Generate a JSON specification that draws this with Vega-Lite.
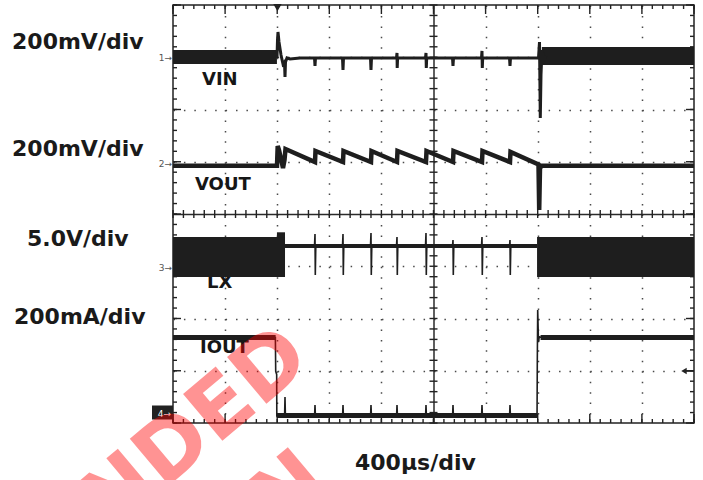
{
  "$schema": "https://vega.github.io/schema/vega-lite/v6.json",
  "width": 521,
  "height": 418,
  "autosize": {"type": "none"},
  "padding": {"left": 173, "top": 5, "right": 9, "bottom": 57},
  "background": "white",
  "config": {
    "view": {"stroke": "#222", "strokeWidth": 1.5},
    "axis": {"labels": false, "grid": false, "domain": false, "ticks": false}
  },
  "datasets": {
    "xt": [{"t":0},{"t":80},{"t":160},{"t":240},{"t":320},{"t":400},{"t":480},{"t":560},{"t":640},{"t":720},{"t":800},{"t":880},{"t":960},{"t":1040},{"t":1120},{"t":1200},{"t":1280},{"t":1360},{"t":1440},{"t":1520},{"t":1600},{"t":1680},{"t":1760},{"t":1840},{"t":1920},{"t":2000},{"t":2080},{"t":2160},{"t":2240},{"t":2320},{"t":2400},{"t":2480},{"t":2560},{"t":2640},{"t":2720},{"t":2800},{"t":2880},{"t":2960},{"t":3040},{"t":3120},{"t":3200},{"t":3280},{"t":3360},{"t":3440},{"t":3520},{"t":3600},{"t":3680},{"t":3760},{"t":3840},{"t":3920},{"t":4000}],
    "yt": [{"v":0},{"v":0.2},{"v":0.4},{"v":0.6},{"v":0.8},{"v":1},{"v":1.2},{"v":1.4},{"v":1.6},{"v":1.8},{"v":2},{"v":2.2},{"v":2.4},{"v":2.6},{"v":2.8},{"v":3},{"v":3.2},{"v":3.4},{"v":3.6},{"v":3.8},{"v":4},{"v":4.2},{"v":4.4},{"v":4.6},{"v":4.8},{"v":5},{"v":5.2},{"v":5.4},{"v":5.6},{"v":5.8},{"v":6},{"v":6.2},{"v":6.4},{"v":6.6},{"v":6.8},{"v":7},{"v":7.2},{"v":7.4},{"v":7.6},{"v":7.8},{"v":8}],
    "bands": [
      {"ch": "VIN", "t1": 0, "t2": 798, "v1": 6.871, "v2": 7.139},
      {"ch": "VIN", "t1": 2832, "t2": 4000, "v1": 6.852, "v2": 7.196},
      {"ch": "LX", "t1": 0, "t2": 860, "v1": 2.794, "v2": 3.56},
      {"ch": "LX", "t1": 798, "t2": 860, "v1": 3.55, "v2": 3.65},
      {"ch": "LX", "t1": 860, "t2": 2795, "v1": 3.349, "v2": 3.426},
      {"ch": "LX", "t1": 2795, "t2": 4000, "v1": 2.794, "v2": 3.56},
      {"ch": "IOUT", "t1": 0, "t2": 788, "v1": 1.589, "v2": 1.684},
      {"ch": "IOUT", "t1": 797, "t2": 2796, "v1": 0.096, "v2": 0.191},
      {"ch": "IOUT", "t1": 2822, "t2": 4000, "v1": 1.589, "v2": 1.684}
    ],
    "vin": [
      {"t": 798.5, "v": 6.986}, {"t": 802.3, "v": 7.33}, {"t": 806.1, "v": 7.483}, {"t": 813.8, "v": 7.292},
      {"t": 829.2, "v": 7.043}, {"t": 844.5, "v": 6.871}, {"t": 856.0, "v": 6.909}, {"t": 859.9, "v": 6.622},
      {"t": 863.7, "v": 6.909}, {"t": 875.2, "v": 6.986}, {"t": 898.3, "v": 6.967}, {"t": 975.0, "v": 6.986},
      {"t": 1086.4, "v": 6.986}, {"t": 1090.2, "v": 6.833}, {"t": 1094.0, "v": 6.986},
      {"t": 1301.3, "v": 6.986}, {"t": 1305.2, "v": 6.756}, {"t": 1309.0, "v": 6.986},
      {"t": 1516.3, "v": 6.986}, {"t": 1520.1, "v": 6.756}, {"t": 1524.0, "v": 6.986},
      {"t": 1715.9, "v": 6.986}, {"t": 1719.8, "v": 7.081}, {"t": 1721.3, "v": 6.794}, {"t": 1724.4, "v": 6.986},
      {"t": 1938.6, "v": 6.986}, {"t": 1942.4, "v": 7.081}, {"t": 1944.7, "v": 6.794}, {"t": 1947.8, "v": 6.986},
      {"t": 2145.9, "v": 6.986}, {"t": 2149.7, "v": 6.833}, {"t": 2153.6, "v": 6.986},
      {"t": 2368.5, "v": 6.986}, {"t": 2372.3, "v": 7.12}, {"t": 2374.6, "v": 6.794}, {"t": 2377.7, "v": 6.986},
      {"t": 2583.5, "v": 6.986}, {"t": 2587.3, "v": 6.833}, {"t": 2591.2, "v": 6.986},
      {"t": 2806.1, "v": 6.986}, {"t": 2813.8, "v": 7.292}, {"t": 2819.9, "v": 5.837}, {"t": 2825.3, "v": 6.66},
      {"t": 2833.0, "v": 7.139}, {"t": 2848.3, "v": 6.947}, {"t": 2863.7, "v": 7.024}
    ],
    "vout": [
      {"t": 0, "v": 4.922}, {"t": 798.5, "v": 4.922}, {"t": 803.8, "v": 5.301}, {"t": 813.8, "v": 5.225},
      {"t": 844.5, "v": 4.88}, {"t": 856.0, "v": 5.033}, {"t": 863.7, "v": 5.244},
      {"t": 1090.2, "v": 4.995}, {"t": 1094.0, "v": 5.206}, {"t": 1305.2, "v": 4.995}, {"t": 1309.0, "v": 5.206},
      {"t": 1520.1, "v": 4.995}, {"t": 1524.0, "v": 5.206}, {"t": 1719.8, "v": 4.995}, {"t": 1723.6, "v": 5.206},
      {"t": 1942.4, "v": 4.995}, {"t": 1946.3, "v": 5.206}, {"t": 2149.7, "v": 4.995}, {"t": 2153.6, "v": 5.206},
      {"t": 2372.3, "v": 4.995}, {"t": 2376.2, "v": 5.206}, {"t": 2587.3, "v": 4.995}, {"t": 2591.2, "v": 5.187},
      {"t": 2806.1, "v": 4.95}, {"t": 2811.5, "v": 4.077}, {"t": 2817.6, "v": 4.88}, {"t": 2833.0, "v": 4.922},
      {"t": 4000, "v": 4.922}
    ],
    "lx": [
      {"t": 860, "v": 3.388},
      {"t": 1086.4, "v": 3.388}, {"t": 1090.2, "v": 3.617}, {"t": 1092.5, "v": 2.833}, {"t": 1096.4, "v": 3.388},
      {"t": 1301.3, "v": 3.388}, {"t": 1305.2, "v": 3.617}, {"t": 1307.5, "v": 2.833}, {"t": 1311.3, "v": 3.388},
      {"t": 1516.3, "v": 3.388}, {"t": 1520.1, "v": 3.636}, {"t": 1522.4, "v": 2.833}, {"t": 1526.3, "v": 3.388},
      {"t": 1715.9, "v": 3.388}, {"t": 1719.8, "v": 3.56}, {"t": 1722.1, "v": 2.833}, {"t": 1725.9, "v": 3.388},
      {"t": 1938.6, "v": 3.388}, {"t": 1942.4, "v": 3.636}, {"t": 1944.7, "v": 2.833}, {"t": 1948.6, "v": 3.388},
      {"t": 2145.9, "v": 3.388}, {"t": 2149.7, "v": 3.502}, {"t": 2152.0, "v": 2.833}, {"t": 2155.9, "v": 3.388},
      {"t": 2368.5, "v": 3.388}, {"t": 2372.3, "v": 3.56}, {"t": 2374.6, "v": 2.833}, {"t": 2378.5, "v": 3.388},
      {"t": 2583.5, "v": 3.388}, {"t": 2587.3, "v": 3.502}, {"t": 2589.6, "v": 2.833}, {"t": 2593.5, "v": 3.388},
      {"t": 2795, "v": 3.388}
    ],
    "iout": [
      {"t": 0, "v": 1.636}, {"t": 786, "v": 1.636}, {"t": 788.5, "v": 0.99}, {"t": 796, "v": 0.93}, {"t": 797, "v": 0.134},
      {"t": 856.8, "v": 0.144}, {"t": 859.9, "v": 0.498}, {"t": 863.0, "v": 0.144},
      {"t": 1087.1, "v": 0.144}, {"t": 1090.2, "v": 0.344}, {"t": 1093.3, "v": 0.144},
      {"t": 1302.1, "v": 0.144}, {"t": 1305.2, "v": 0.344}, {"t": 1308.3, "v": 0.144},
      {"t": 1517.0, "v": 0.144}, {"t": 1520.1, "v": 0.344}, {"t": 1523.2, "v": 0.144},
      {"t": 1716.7, "v": 0.144}, {"t": 1719.8, "v": 0.344}, {"t": 1722.9, "v": 0.144},
      {"t": 1939.3, "v": 0.144}, {"t": 1942.4, "v": 0.344}, {"t": 1945.5, "v": 0.144},
      {"t": 2146.6, "v": 0.144}, {"t": 2149.7, "v": 0.344}, {"t": 2152.8, "v": 0.144},
      {"t": 2369.2, "v": 0.144}, {"t": 2372.3, "v": 0.344}, {"t": 2375.4, "v": 0.144},
      {"t": 2584.2, "v": 0.144}, {"t": 2587.3, "v": 0.344}, {"t": 2590.4, "v": 0.144},
      {"t": 2795, "v": 0.144}, {"t": 2797, "v": 1.2}, {"t": 2800, "v": 2.163}, {"t": 2806, "v": 1.55},
      {"t": 2812, "v": 1.65}, {"t": 2830, "v": 1.636}, {"t": 4000, "v": 1.636}
    ],
    "scaleLabels": [
      {"t": -1236, "v": 7.158, "label": "200mV/div"},
      {"t": -1236, "v": 5.11, "label": "200mV/div"},
      {"t": -1121, "v": 3.388, "label": "5.0V/div"},
      {"t": -1221, "v": 1.895, "label": "200mA/div"},
      {"t": 1397, "v": -0.9, "label": "400µs/div"}
    ],
    "traceLabels": [
      {"t": 222.6, "v": 6.469, "label": "VIN"},
      {"t": 168.9, "v": 4.459, "label": "VOUT"},
      {"t": 261.0, "v": 2.584, "label": "LX"},
      {"t": 207.3, "v": 1.34, "label": "IOUT"}
    ],
    "markers": [
      {"t": -7.7, "v": 6.919, "label": "1→"},
      {"t": -7.7, "v": 4.909, "label": "2→"},
      {"t": -7.7, "v": 2.9, "label": "3→"}
    ],
    "box": [{"t1": -161.2, "t2": 0, "v1": 0.067, "v2": 0.335, "label": "4→", "t": -15.4, "v": 0.115}],
    "trigger": [{"t": 802, "v": 7.952}],
    "level": [{"t": 3923, "t2": 4000, "v": 0.995}],
    "watermark": [
      {"t": 1082.5, "v": 1.129, "label": "NOT RECOMMENDED"},
      {"t": 1228.4, "v": -1.263, "label": "FOR NEW DESIGN"}
    ]
  },
  "layer": [
    {
      "data": {"name": "traceLabels"},
      "mark": {"type": "text", "font": "DejaVu Sans", "fontWeight": "bold", "fontSize": 18, "align": "left", "baseline": "alphabetic", "color": "#161616"},
      "encoding": {
        "x": {"field": "t", "type": "quantitative", "title": null, "scale": {"domain": [0, 4000], "nice": false, "zero": false},
          "axis": {"orient": "bottom", "ticks": false, "grid": true, "gridColor": "#4a4a4a", "gridWidth": 1.5, "gridDash": [1.5, 8.95], "values": [400, 800, 1200, 1600, 2400, 2800, 3200, 3600]}},
        "y": {"field": "v", "type": "quantitative", "title": null, "scale": {"domain": [0, 8], "nice": false, "zero": false},
          "axis": {"orient": "left", "ticks": false, "grid": true, "gridColor": "#4a4a4a", "gridWidth": 1.5, "gridDash": [1.5, 8.92], "values": [1, 2, 3, 5, 6, 7]}},
        "text": {"field": "label"}
      }
    },
    {
      "data": {"name": "xt"},
      "mark": {"type": "tick", "orient": "vertical", "color": "#222", "size": 4, "thickness": 1.4, "opacity": 1},
      "encoding": {
        "x": {"field": "t", "type": "quantitative", "title": null, "scale": {"domain": [0, 4000], "nice": false, "zero": false},
          "axis": {"orient": "bottom", "offset": -209, "domain": true, "domainColor": "#2a2a2a", "domainWidth": 1.5, "values": [0, 4000]}},
        "y": {"datum": 0.0383, "type": "quantitative", "scale": {"domain": [0, 8], "nice": false, "zero": false}, "axis": null}
      }
    },
    {
      "data": {"name": "xt"},
      "mark": {"type": "tick", "orient": "vertical", "color": "#222", "size": 4, "thickness": 1.4, "opacity": 1},
      "encoding": {
        "x": {"field": "t", "type": "quantitative", "title": null, "scale": {"domain": [0, 4000], "nice": false, "zero": false}, "axis": null},
        "y": {"datum": 7.9617, "type": "quantitative", "scale": {"domain": [0, 8], "nice": false, "zero": false}, "axis": null}
      }
    },
    {
      "data": {"name": "xt"},
      "mark": {"type": "tick", "orient": "vertical", "color": "#222", "size": 8, "thickness": 1.4, "opacity": 1},
      "encoding": {
        "x": {"field": "t", "type": "quantitative", "title": null, "scale": {"domain": [0, 4000], "nice": false, "zero": false}, "axis": null},
        "y": {"datum": 4, "type": "quantitative", "scale": {"domain": [0, 8], "nice": false, "zero": false}, "axis": null}
      }
    },
    {
      "data": {"name": "xt"},
      "transform": [{"filter": "datum.t % 400 === 0"}],
      "mark": {"type": "tick", "orient": "vertical", "color": "#222", "size": 9, "thickness": 1.4, "opacity": 1},
      "encoding": {
        "x": {"field": "t", "type": "quantitative", "title": null, "scale": {"domain": [0, 4000], "nice": false, "zero": false}, "axis": null},
        "y": {"datum": 0.086, "type": "quantitative", "scale": {"domain": [0, 8], "nice": false, "zero": false}, "axis": null}
      }
    },
    {
      "data": {"name": "xt"},
      "transform": [{"filter": "datum.t % 400 === 0"}],
      "mark": {"type": "tick", "orient": "vertical", "color": "#222", "size": 9, "thickness": 1.4, "opacity": 1},
      "encoding": {
        "x": {"field": "t", "type": "quantitative", "title": null, "scale": {"domain": [0, 4000], "nice": false, "zero": false}, "axis": null},
        "y": {"datum": 7.914, "type": "quantitative", "scale": {"domain": [0, 8], "nice": false, "zero": false}, "axis": null}
      }
    },
    {
      "data": {"name": "yt"},
      "mark": {"type": "tick", "orient": "horizontal", "color": "#222", "size": 4, "thickness": 1.4, "opacity": 1},
      "encoding": {
        "y": {"field": "v", "type": "quantitative", "title": null, "scale": {"domain": [0, 8], "nice": false, "zero": false},
          "axis": {"orient": "left", "offset": -260.5, "domain": true, "domainColor": "#2a2a2a", "domainWidth": 1.5, "values": [0, 8]}},
        "x": {"datum": 15.35, "type": "quantitative", "scale": {"domain": [0, 4000], "nice": false, "zero": false}, "axis": null}
      }
    },
    {
      "data": {"name": "yt"},
      "mark": {"type": "tick", "orient": "horizontal", "color": "#222", "size": 4, "thickness": 1.4, "opacity": 1},
      "encoding": {
        "y": {"field": "v", "type": "quantitative", "title": null, "scale": {"domain": [0, 8], "nice": false, "zero": false}, "axis": null},
        "x": {"datum": 3984.65, "type": "quantitative", "scale": {"domain": [0, 4000], "nice": false, "zero": false}, "axis": null}
      }
    },
    {
      "data": {"name": "yt"},
      "mark": {"type": "tick", "orient": "horizontal", "color": "#222", "size": 8, "thickness": 1.4, "opacity": 1},
      "encoding": {
        "y": {"field": "v", "type": "quantitative", "title": null, "scale": {"domain": [0, 8], "nice": false, "zero": false}, "axis": null},
        "x": {"datum": 2000, "type": "quantitative", "scale": {"domain": [0, 4000], "nice": false, "zero": false}, "axis": null}
      }
    },
    {
      "data": {"name": "yt"},
      "transform": [{"filter": "datum.v % 1 === 0"}],
      "mark": {"type": "tick", "orient": "horizontal", "color": "#222", "size": 8, "thickness": 1.4, "opacity": 1},
      "encoding": {
        "y": {"field": "v", "type": "quantitative", "title": null, "scale": {"domain": [0, 8], "nice": false, "zero": false}, "axis": null},
        "x": {"datum": 30.7, "type": "quantitative", "scale": {"domain": [0, 4000], "nice": false, "zero": false}, "axis": null}
      }
    },
    {
      "data": {"name": "yt"},
      "transform": [{"filter": "datum.v % 1 === 0"}],
      "mark": {"type": "tick", "orient": "horizontal", "color": "#222", "size": 8, "thickness": 1.4, "opacity": 1},
      "encoding": {
        "y": {"field": "v", "type": "quantitative", "title": null, "scale": {"domain": [0, 8], "nice": false, "zero": false}, "axis": null},
        "x": {"datum": 3969.3, "type": "quantitative", "scale": {"domain": [0, 4000], "nice": false, "zero": false}, "axis": null}
      }
    },
    {
      "data": {"name": "bands"},
      "mark": {"type": "rect", "color": "#1e1e1e"},
      "encoding": {
        "x": {"field": "t1", "type": "quantitative", "title": null, "scale": {"domain": [0, 4000], "nice": false, "zero": false}, "axis": null},
        "x2": {"field": "t2"},
        "y": {"field": "v1", "type": "quantitative", "title": null, "scale": {"domain": [0, 8], "nice": false, "zero": false}, "axis": null},
        "y2": {"field": "v2"}
      }
    },
    {
      "data": {"name": "vin"},
      "mark": {"type": "line", "color": "#1e1e1e", "strokeWidth": 3},
      "encoding": {
        "x": {"field": "t", "type": "quantitative", "title": null, "scale": {"domain": [0, 4000], "nice": false, "zero": false}, "axis": null},
        "y": {"field": "v", "type": "quantitative", "title": null, "scale": {"domain": [0, 8], "nice": false, "zero": false}, "axis": null}
      }
    },
    {
      "data": {"name": "vout"},
      "mark": {"type": "line", "color": "#1e1e1e", "strokeWidth": 4.5},
      "encoding": {
        "x": {"field": "t", "type": "quantitative", "title": null, "scale": {"domain": [0, 4000], "nice": false, "zero": false}, "axis": null},
        "y": {"field": "v", "type": "quantitative", "title": null, "scale": {"domain": [0, 8], "nice": false, "zero": false}, "axis": null}
      }
    },
    {
      "data": {"name": "lx"},
      "mark": {"type": "line", "color": "#1e1e1e", "strokeWidth": 1.6},
      "encoding": {
        "x": {"field": "t", "type": "quantitative", "title": null, "scale": {"domain": [0, 4000], "nice": false, "zero": false}, "axis": null},
        "y": {"field": "v", "type": "quantitative", "title": null, "scale": {"domain": [0, 8], "nice": false, "zero": false}, "axis": null}
      }
    },
    {
      "data": {"name": "iout"},
      "mark": {"type": "line", "color": "#1e1e1e", "strokeWidth": 1.6},
      "encoding": {
        "x": {"field": "t", "type": "quantitative", "title": null, "scale": {"domain": [0, 4000], "nice": false, "zero": false}, "axis": null},
        "y": {"field": "v", "type": "quantitative", "title": null, "scale": {"domain": [0, 8], "nice": false, "zero": false}, "axis": null}
      }
    },
    {
      "data": {"name": "scaleLabels"},
      "mark": {"type": "text", "font": "DejaVu Sans", "fontWeight": "bold", "fontSize": 22, "align": "left", "baseline": "alphabetic", "color": "#1a1a1a"},
      "encoding": {
        "x": {"field": "t", "type": "quantitative", "title": null, "scale": {"domain": [0, 4000], "nice": false, "zero": false}, "axis": null},
        "y": {"field": "v", "type": "quantitative", "title": null, "scale": {"domain": [0, 8], "nice": false, "zero": false}, "axis": null},
        "text": {"field": "label"}
      }
    },
    {
      "data": {"name": "markers"},
      "mark": {"type": "text", "font": "DejaVu Sans", "fontSize": 9, "align": "right", "baseline": "alphabetic", "color": "#555"},
      "encoding": {
        "x": {"field": "t", "type": "quantitative", "title": null, "scale": {"domain": [0, 4000], "nice": false, "zero": false}, "axis": null},
        "y": {"field": "v", "type": "quantitative", "title": null, "scale": {"domain": [0, 8], "nice": false, "zero": false}, "axis": null},
        "text": {"field": "label"}
      }
    },
    {
      "data": {"name": "box"},
      "mark": {"type": "rect", "color": "#222"},
      "encoding": {
        "x": {"field": "t1", "type": "quantitative", "title": null, "scale": {"domain": [0, 4000], "nice": false, "zero": false}, "axis": null},
        "x2": {"field": "t2"},
        "y": {"field": "v1", "type": "quantitative", "title": null, "scale": {"domain": [0, 8], "nice": false, "zero": false}, "axis": null},
        "y2": {"field": "v2"}
      }
    },
    {
      "data": {"name": "box"},
      "mark": {"type": "text", "font": "DejaVu Sans", "fontSize": 9, "align": "right", "baseline": "alphabetic", "color": "#ffffff"},
      "encoding": {
        "x": {"field": "t", "type": "quantitative", "title": null, "scale": {"domain": [0, 4000], "nice": false, "zero": false}, "axis": null},
        "y": {"field": "v", "type": "quantitative", "title": null, "scale": {"domain": [0, 8], "nice": false, "zero": false}, "axis": null},
        "text": {"field": "label"}
      }
    },
    {
      "data": {"name": "trigger"},
      "mark": {"type": "point", "shape": "triangle-down", "size": 70, "filled": true, "opacity": 1, "color": "#222"},
      "encoding": {
        "x": {"field": "t", "type": "quantitative", "title": null, "scale": {"domain": [0, 4000], "nice": false, "zero": false}, "axis": null},
        "y": {"field": "v", "type": "quantitative", "title": null, "scale": {"domain": [0, 8], "nice": false, "zero": false}, "axis": null}
      }
    },
    {
      "data": {"name": "level"},
      "mark": {"type": "rule", "color": "#222", "strokeWidth": 1.5},
      "encoding": {
        "x": {"field": "t", "type": "quantitative", "title": null, "scale": {"domain": [0, 4000], "nice": false, "zero": false}, "axis": null},
        "x2": {"field": "t2"},
        "y": {"field": "v", "type": "quantitative", "title": null, "scale": {"domain": [0, 8], "nice": false, "zero": false}, "axis": null}
      }
    },
    {
      "data": {"name": "level"},
      "mark": {"type": "point", "shape": "triangle-left", "size": 40, "filled": true, "opacity": 1, "color": "#222"},
      "encoding": {
        "x": {"field": "t", "type": "quantitative", "title": null, "scale": {"domain": [0, 4000], "nice": false, "zero": false}, "axis": null},
        "y": {"field": "v", "type": "quantitative", "title": null, "scale": {"domain": [0, 8], "nice": false, "zero": false}, "axis": null}
      }
    },
    {
      "data": {"name": "watermark"},
      "mark": {"type": "text", "font": "DejaVu Sans", "fontWeight": "bold", "fontSize": 84, "align": "right", "baseline": "alphabetic", "angle": -40, "color": "#ff0000", "opacity": 0.42},
      "encoding": {
        "x": {"field": "t", "type": "quantitative", "title": null, "scale": {"domain": [0, 4000], "nice": false, "zero": false}, "axis": null},
        "y": {"field": "v", "type": "quantitative", "title": null, "scale": {"domain": [0, 8], "nice": false, "zero": false}, "axis": null},
        "text": {"field": "label"}
      }
    }
  ],
  "resolve": {"axis": {"x": "independent", "y": "independent"}}
}
